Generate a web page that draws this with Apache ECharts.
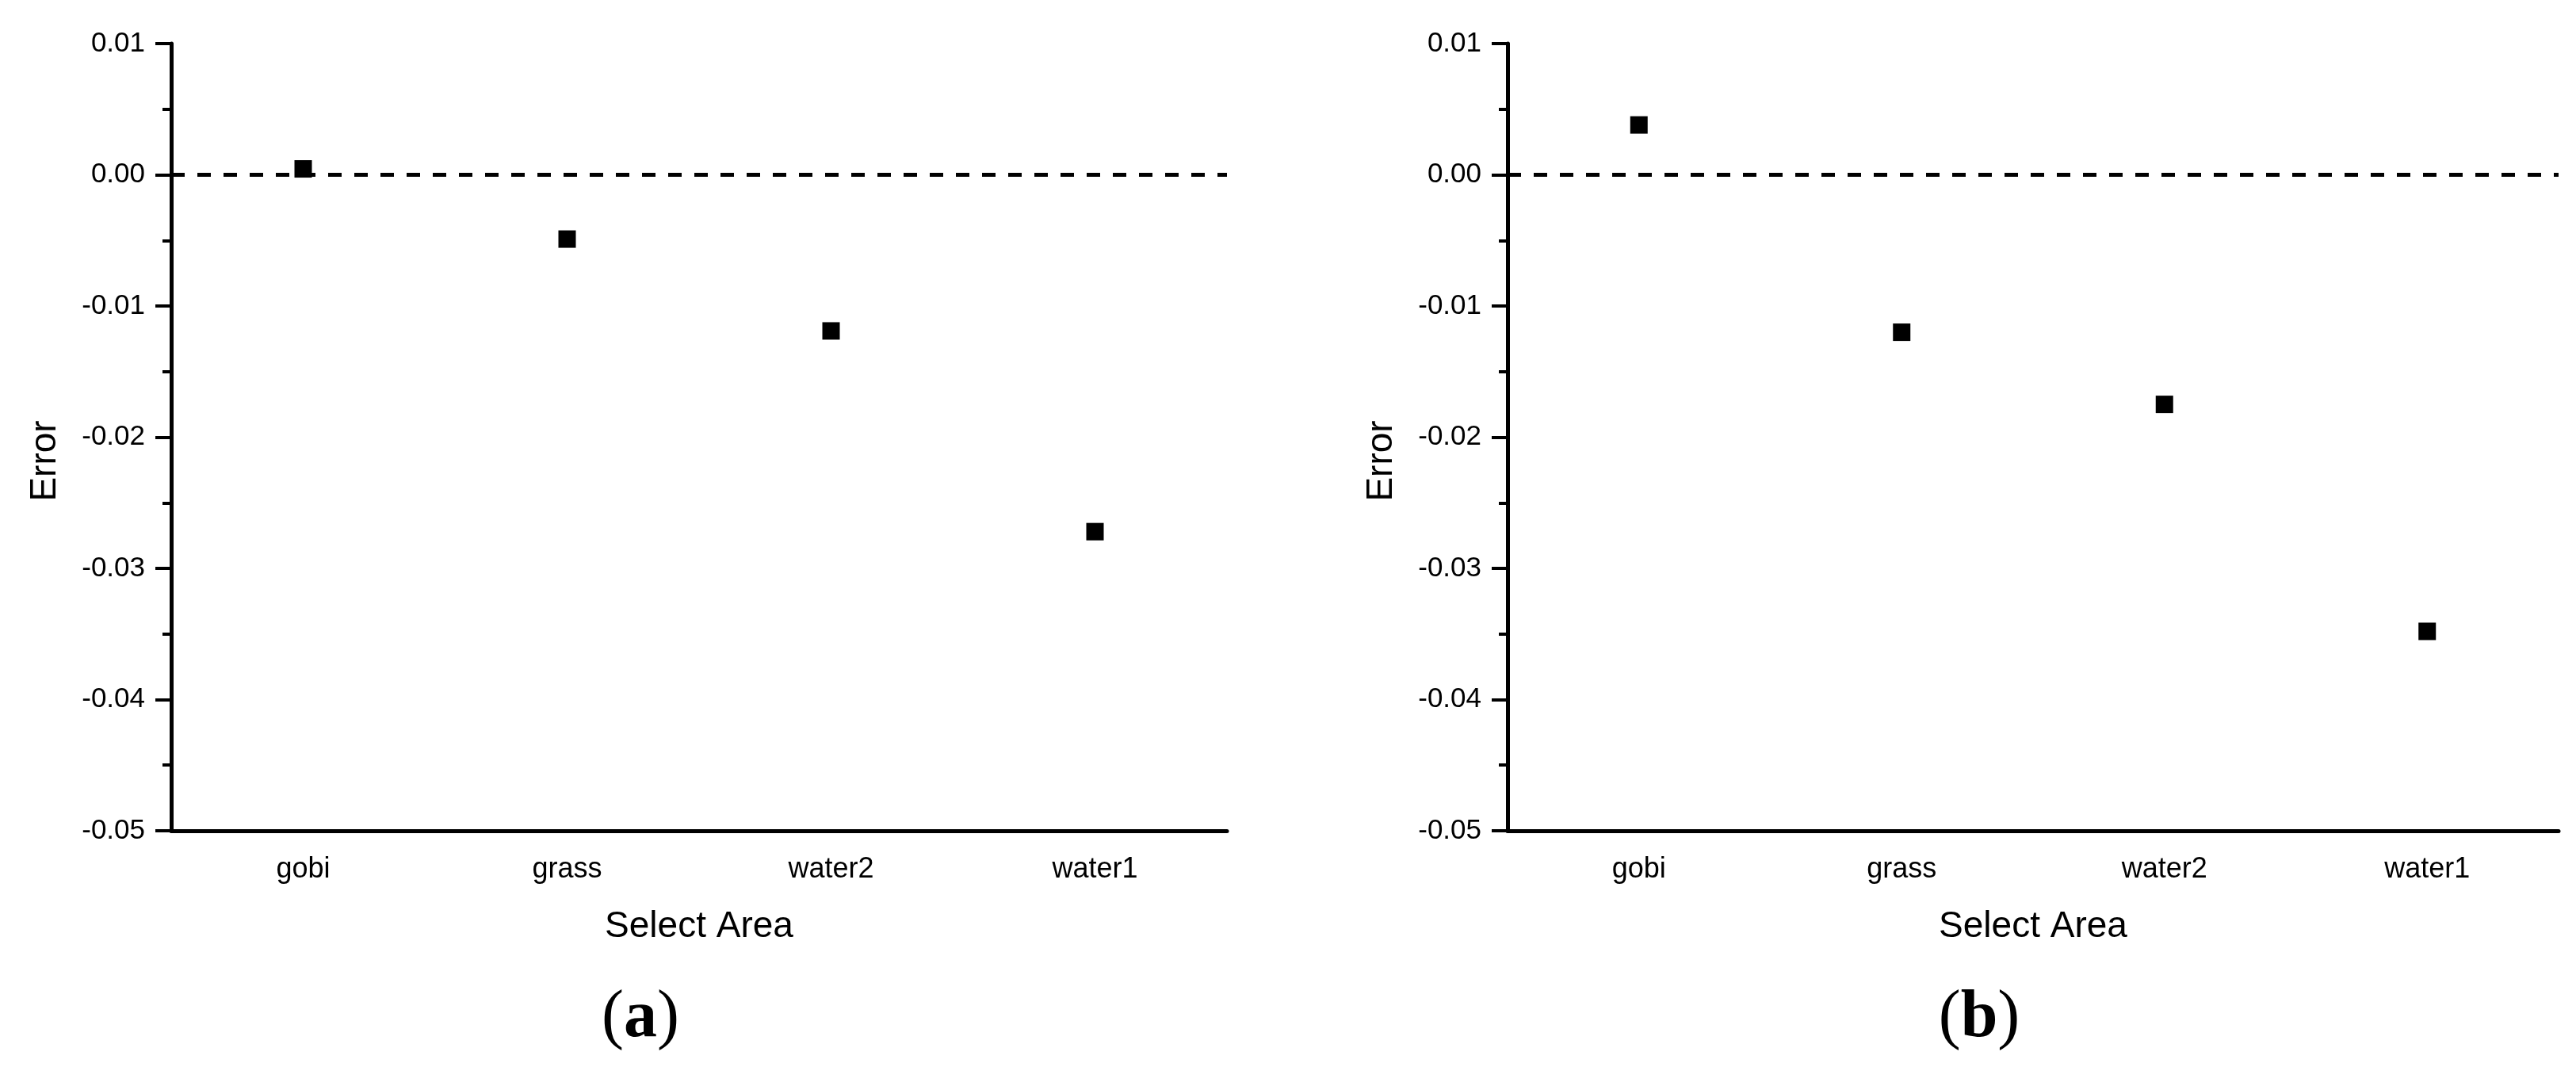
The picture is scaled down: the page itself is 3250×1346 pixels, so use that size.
<!DOCTYPE html>
<html>
<head>
  <meta charset="utf-8">
  <title>Error by select area</title>
  <script src="https://cdn.jsdelivr.net/npm/echarts@6/dist/echarts.min.js"></script>
  <style>
    body { margin: 0; background: #fff; }
    #main { width: 3250px; height: 1346px; }
  </style>
</head>
<body>
<div id="main"></div>
<script>
// data
var areas = ['gobi', 'grass', 'water2', 'water1'];
var errorA = [0.00045, -0.0049, -0.0119, -0.0272];
var errorB = [0.0038, -0.0120, -0.0175, -0.0348];
var yMin = -0.05, yMax = 0.01, yStep = 0.01;
var panelLabels = ['a', 'b'];

var font = 'Liberation Sans, Arial, sans-serif';

function fmt(v) {
  if (Math.abs(v) < 1e-9) return '0.00';
  return v.toFixed(2);
}

// main x axis: long ticks under each category + labels
function catAxis(gi) {
  return {
    type: 'category', gridIndex: gi, data: areas, position: 'bottom',
    name: 'Select Area', nameLocation: 'middle', nameGap: 98,
    nameTextStyle: { fontFamily: font, fontSize: 46, color: '#000' },
    axisLine: { onZero: false, lineStyle: { color: '#000', width: 5 } },
    axisTick: { alignWithLabel: true, length: 21, lineStyle: { color: '#000', width: 4 } },
    axisLabel: { margin: 31, fontFamily: font, fontSize: 36, color: '#000' },
    splitLine: { show: false }
  };
}

// second x axis only for the short ticks between categories
function boundAxis(gi) {
  return {
    type: 'category', gridIndex: gi, data: areas, position: 'bottom',
    axisLine: { show: false, onZero: false },
    axisTick: { length: 11, lineStyle: { color: '#000', width: 4 } },
    axisLabel: { show: false },
    splitLine: { show: false }
  };
}

function valAxis(gi) {
  return {
    type: 'value', gridIndex: gi, min: yMin, max: yMax, interval: yStep,
    name: 'Error', nameLocation: 'middle', nameGap: 136,
    nameTextStyle: { fontFamily: font, fontSize: 46, color: '#000', padding: [0, 60, 0, 0] },
    axisLine: { show: true, lineStyle: { color: '#000', width: 5 } },
    axisTick: { show: true, length: 20, lineStyle: { color: '#000', width: 4 } },
    minorTick: { show: true, splitNumber: 2, length: 11, lineStyle: { color: '#000', width: 4 } },
    axisLabel: { margin: 33, fontFamily: font, fontSize: 35, color: '#000', formatter: fmt },
    splitLine: { show: false }
  };
}

function pointSeries(gi, values) {
  return {
    type: 'scatter', xAxisIndex: gi * 2, yAxisIndex: gi,
    data: values, symbol: 'rect', symbolSize: 22,
    itemStyle: { color: '#000', opacity: 1 },
    markLine: {
      silent: true, symbol: 'none', label: { show: false },
      lineStyle: { color: '#000', width: 5, type: [17, 16], opacity: 1 },
      data: [{ yAxis: 0 }]
    }
  };
}

function panelText(x, letter) {
  return {
    type: 'text', x: x, y: 1285,
    style: {
      text: '{p|(}{b|' + letter + '}{p|)}',
      align: 'center', verticalAlign: 'middle',
      rich: {
        p: { fontFamily: 'Liberation Serif, serif', fontSize: 84, fill: '#000' },
        b: { fontFamily: 'Liberation Serif, serif', fontSize: 84, fontWeight: 'bold', fill: '#000' }
      }
    }
  };
}

var option = {
  backgroundColor: '#fff',
  animation: false,
  grid: [
    { left: 216, top: 55, width: 1332, height: 993 },
    { left: 1902, top: 55, width: 1326, height: 993 }
  ],
  xAxis: [catAxis(0), boundAxis(0), catAxis(1), boundAxis(1)],
  yAxis: [valAxis(0), valAxis(1)],
  series: [pointSeries(0, errorA), pointSeries(1, errorB)],
  graphic: [panelText(808, panelLabels[0]), panelText(2497, panelLabels[1])]
};

var myChart = echarts.init(document.getElementById('main'));
myChart.setOption(option);
</script>
</body>
</html>
